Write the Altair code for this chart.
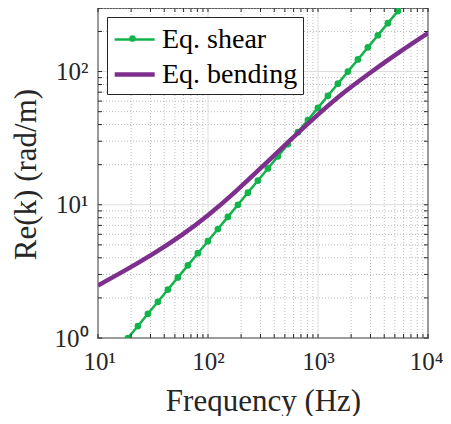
import altair as alt
import pandas as pd

# ---- data ----
shear_f = [18.7, 23.05, 28.42, 35.04, 43.19, 53.25, 65.64, 80.92, 99.76, 123.0,
           151.6, 187.0, 230.5, 284.2, 350.3, 431.9, 532.4, 656.4, 809.2, 997.6,
           1230, 1516, 1869, 2305, 2841, 3503, 4318, 5324]
shear_k = [1.00, 1.23, 1.52, 1.87, 2.31, 2.85, 3.51, 4.33, 5.33, 6.58,
           8.11, 10.0, 12.33, 15.20, 18.73, 23.10, 28.47, 35.10, 43.27, 53.35,
           65.78, 81.07, 99.95, 123.3, 151.9, 187.3, 230.9, 284.7]
bend_f = [10, 17.78, 31.62, 56.23, 100, 177.8, 316.2, 562.3, 1000, 1778, 3162, 5623, 10000]
bend_k = [2.48, 3.23, 4.28, 5.84, 8.35, 12.56, 19.56, 30.65, 47.48, 71.04, 101.5, 141.8, 194.5]
series = ["Eq. shear", "Eq. bending"]

x_major = [10, 100, 1000, 10000]
x_minor = [20, 30, 40, 50, 60, 70, 80, 90, 200, 300, 400, 500, 600, 700, 800, 900,
           2000, 3000, 4000, 5000, 6000, 7000, 8000, 9000]
y_major = [1, 10, 100]
y_minor = [2, 3, 4, 5, 6, 7, 8, 9, 20, 30, 40, 50, 60, 70, 80, 90, 200, 300]

FONT = "Liberation Serif"
GREEN = "#12b34b"
PURPLE = "#7e2f8e"
INK = "#262626"
W, H = 330, 330

shear = pd.DataFrame({"f": shear_f, "k": shear_k, "s": series[0], "m": series[0]})
bend = pd.DataFrame({"f": bend_f, "k": bend_k, "s": series[1]})
gxM = pd.DataFrame({"f": x_major})
gxm = pd.DataFrame({"f": x_minor})
gyM = pd.DataFrame({"k": y_major})
gym = pd.DataFrame({"k": y_minor})
gx_all = pd.DataFrame({"f": x_major + x_minor})
gy_all = pd.DataFrame({"k": y_major + y_minor})

sup = "['\u2070','\u00b9','\u00b2','\u00b3','\u2074']"
lab = "'10' + " + sup + "[round(log(datum.value)/LN10)]"
xscale = alt.Scale(type="log", domain=[10, 10000], nice=False)
yscale = alt.Scale(type="log", domain=[1, 300], nice=False)
xaxis = alt.Axis(title="Frequency (Hz)", values=x_major, grid=False, ticks=False,
                 tickSize=0, domain=False, labelExpr=lab,
                 labelFont=FONT, labelFontSize=25, labelColor=INK,
                 labelBaseline="alphabetic", labelPadding=31,
                 labelFlush=True, labelFlushOffset=15,
                 titleFont=FONT, titleFontSize=31, titleFontWeight="normal",
                 titleColor=INK, titleBaseline="alphabetic", titleY=72)
yaxis = alt.Axis(title="Re(k) (rad/m)", values=y_major, grid=False, ticks=False,
                 tickSize=0, domain=False, labelExpr=lab,
                 labelFont=FONT, labelFontSize=25, labelColor=INK,
                 labelBaseline="alphabetic", labelOffset=8, labelPadding=10,
                 labelAlign="right",
                 titleFont=FONT, titleFontSize=31, titleFontWeight="normal",
                 titleColor=INK, titleBaseline="alphabetic", titleAngle=270,
                 titleX=-63, titleY=166, titleAlign="center")


def X(field="f"):
    return alt.X(f"{field}:Q", scale=xscale, axis=xaxis)


def Y(field="k"):
    return alt.Y(f"{field}:Q", scale=yscale, axis=yaxis)


def main_legend():
    return alt.Legend(title=None, orient="none", legendX=9, legendY=9,
                      symbolType="M-1,0H1.53", symbolSize=1000,
                      labelFont=FONT, labelFontSize=28,
                      labelColor="black", labelOffset=13,
                      strokeColor=INK, fillColor="white",
                      padding=5, rowPadding=2, labelLimit=400)


color = alt.Color("s:N", scale=alt.Scale(domain=series, range=[GREEN, PURPLE]),
                  legend=main_legend())
swidth = alt.StrokeWidth("s:N", scale=alt.Scale(domain=series, range=[2.5, 4.5]),
                         legend=main_legend())
dot_shape = alt.Shape("m:N", scale=alt.Scale(domain=[series[0]], range=["circle"]),
                      legend=alt.Legend(title=None, orient="none", legendX=31, legendY=27,
                                        labelExpr="''", labelFontSize=1, padding=0,
                                        symbolSize=45, symbolFillColor=GREEN,
                                        symbolStrokeColor=GREEN, symbolStrokeWidth=0,
                                        symbolOpacity=1))

minor_x = alt.Chart(gxm).mark_rule(color="#bdbdbd", strokeWidth=1, strokeDash=[1, 2]).encode(x=X())
minor_y = alt.Chart(gym).mark_rule(color="#bdbdbd", strokeWidth=1, strokeDash=[1, 2]).encode(y=Y())
major_x = alt.Chart(gxM).mark_rule(color="#dcdcdc", strokeWidth=1).encode(x=X())
major_y = alt.Chart(gyM).mark_rule(color="#dcdcdc", strokeWidth=1).encode(y=Y())

tick_b = alt.Chart(gx_all).mark_rule(color=INK, strokeWidth=1).encode(
    x=X(), y=alt.value(H), y2=alt.value(H - 4))
tick_t = alt.Chart(gx_all).mark_rule(color=INK, strokeWidth=1).encode(
    x=X(), y=alt.value(0), y2=alt.value(4))
tick_l = alt.Chart(gy_all).mark_rule(color=INK, strokeWidth=1).encode(
    y=Y(), x=alt.value(0), x2=alt.value(4))
tick_r = alt.Chart(gy_all).mark_rule(color=INK, strokeWidth=1).encode(
    y=Y(), x=alt.value(W), x2=alt.value(W - 4))

shear_line = alt.Chart(shear).mark_line(clip=True).encode(
    x=X(), y=Y(), color=color, strokeWidth=swidth)
shear_pts = alt.Chart(shear).mark_point(filled=True, size=45, opacity=1, clip=True,
                                        color=GREEN).encode(x=X(), y=Y(), shape=dot_shape)
bend_line = alt.Chart(bend).mark_line(clip=True, interpolate="natural").encode(
    x=X(), y=Y(), color=color, strokeWidth=swidth)

chart = alt.layer(
    minor_x, minor_y, major_x, major_y,
    shear_line, shear_pts, bend_line,
    tick_b, tick_t, tick_l, tick_r,
).properties(
    width=W, height=H,
    autosize=alt.AutoSizeParams(type="none"),
    padding={"left": 90, "top": 0, "right": 15, "bottom": 78},
    background="white",
).configure_view(stroke=INK, strokeWidth=1.5)

chart.save("out.html", embed_options={"renderer": "svg", "actions": False})
